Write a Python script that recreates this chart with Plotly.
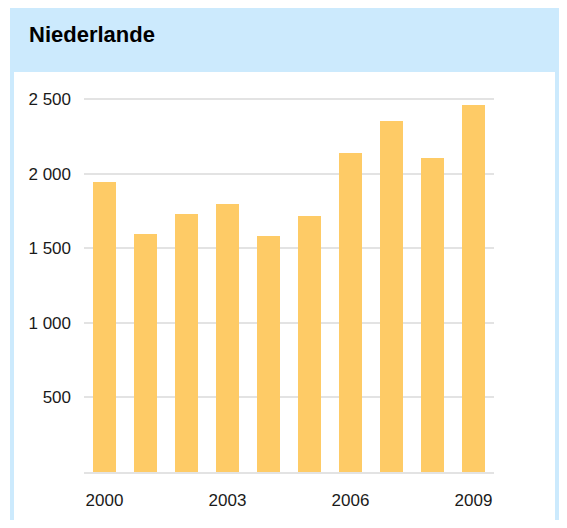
import plotly.graph_objects as go

# data
years = [2000, 2001, 2002, 2003, 2004, 2005, 2006, 2007, 2008, 2009]
values = [1942, 1593, 1729, 1796, 1582, 1716, 2138, 2352, 2103, 2460]
x_ticks = [2000, 2003, 2006, 2009]
y_ticks = [500, 1000, 1500, 2000, 2500]
title = "Niederlande"

# page body adds an 8px margin on every side
W, H = 551, 512
L, R, T, B = 76, 65, 82, 48
pw, ph = W - L - R, H - T - B


def px(x):
    return (x - L) / pw


def py(y):
    return (H - B - y) / ph


fig = go.Figure(go.Bar(
    x=years, y=values, width=0.54,
    marker=dict(color="#fecb66", line=dict(width=0)),
    hoverinfo="x+y",
))

# frame: light blue header + border, white inner panel
fig.add_shape(type="rect", xref="paper", yref="paper", layer="below",
              x0=px(2), x1=px(W + 5), y0=py(0), y1=py(H + 20),
              fillcolor="#cceafd", line=dict(width=0))
fig.add_shape(type="rect", xref="paper", yref="paper", layer="below",
              x0=px(6), x1=px(W - 4), y0=py(64), y1=py(H + 20),
              fillcolor="white", line=dict(width=0))

fig.add_annotation(text="<b>" + title + "</b>", xref="paper", yref="paper",
                   x=px(19), y=py(26), xanchor="left", yanchor="middle",
                   showarrow=False, font=dict(size=22, color="#000000"))

fig.update_layout(
    width=W, height=H,
    margin=dict(l=L, r=R, t=T, b=B),
    paper_bgcolor="white", plot_bgcolor="rgba(0,0,0,0)",
    font=dict(family="Liberation Sans, Arial, sans-serif", size=17, color="#1a1a1a"),
    separators=", ",
    showlegend=False,
    bargap=0,
)
fig.update_xaxes(
    range=[1999.5, 2009.5], tickvals=x_ticks, showgrid=False,
    zeroline=False, showline=True, linecolor="#e3e3e3", linewidth=2,
    ticks="", ticklabelstandoff=12, automargin=False,
)
fig.update_yaxes(
    range=[0, 2560], tickvals=y_ticks, tickformat=",d",
    showgrid=True, gridcolor="#e3e3e3", gridwidth=2,
    zeroline=False, showline=False, ticks="", ticklabelstandoff=12,
    automargin=False,
)

fig.write_html("out.html")
